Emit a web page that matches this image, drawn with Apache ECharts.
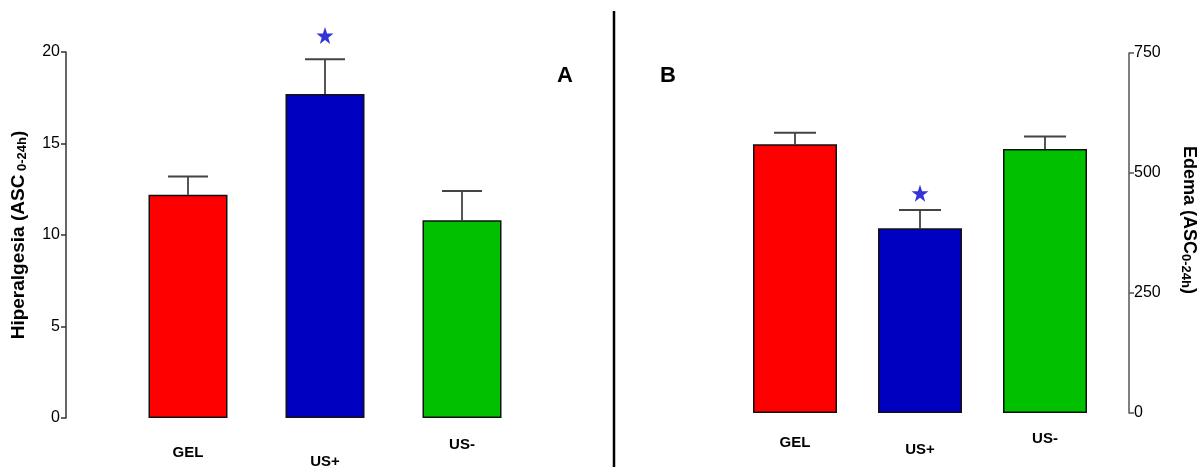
<!DOCTYPE html>
<html><head><meta charset="utf-8">
<script src="https://cdn.jsdelivr.net/npm/echarts@6/dist/echarts.min.js"></script>
<style>html,body{margin:0;padding:0;background:#fff}#c{width:1203px;height:467px}</style>
</head><body><div id="c"></div>
<script>
const categories = ['GEL', 'US+', 'US-'];
const hiperMean = [12.2, 17.7, 10.8];
const hiperErr = [13.2, 19.6, 12.4];
const hiperStar = [null, 20.9, null];
const edemaMean = [560, 385, 550];
const edemaErr = [584, 423, 576];
const edemaStar = [null, 458, null];
const hiperTicks = [0, 5, 10, 15, 20];
const edemaTicks = [0, 250, 500, 750];
const barColors = ['#ff0000', '#0000c0', '#00c000'];

const STAR = 'path://M50,0 L61.8,35.3 L98.1,35.3 L68.8,57.1 L79.4,91.5 L50,70 L20.6,91.5 L31.2,57.1 L1.9,35.3 L38.2,35.3 Z';

function catAxis(gi, pads) {
  const st = (p) => ({padding: [p, 0, 0, 0], fontSize: 15, fontWeight: 'bold', color: '#000', fontFamily: 'Liberation Sans'});
  return {
    type: 'category', gridIndex: gi, data: categories,
    axisLine: {show: false}, axisTick: {show: false},
    axisLabel: {
      interval: 0, margin: 0,
      formatter: (v, i) => '{' + ['g','p','m'][i] + '|' + v + '}',
      rich: {g: st(pads[0]), p: st(pads[1]), m: st(pads[2])}
    }
  };
}

function errSeries(xi, yi, mean, err, cap) {
  return {
    type: 'custom', xAxisIndex: xi, yAxisIndex: yi, z: 1,
    data: mean.map((m, i) => [i, m, err[i]]),
    renderItem: function (params, api) {
      const p0 = api.coord([api.value(0), api.value(1)]);
      const p1 = api.coord([api.value(0), api.value(2)]);
      return {
        type: 'group', children: [
          {type: 'line', shape: {x1: p0[0], y1: p0[1], x2: p1[0], y2: p1[1]}, style: {stroke: '#555', lineWidth: 2}},
          {type: 'line', shape: {x1: p1[0] - cap / 2, y1: p1[1], x2: p1[0] + cap / 2, y2: p1[1]}, style: {stroke: '#444', lineWidth: 2}}
        ]
      };
    }
  };
}

function barSeries(xi, yi, mean, w) {
  return {
    type: 'bar', xAxisIndex: xi, yAxisIndex: yi, barWidth: w, z: 2,
    data: mean.map((v, i) => ({value: v, itemStyle: {color: barColors[i]}})),
    itemStyle: {borderColor: '#111', borderWidth: 1.5}
  };
}

function starSeries(xi, yi, vals) {
  return {
    type: 'scatter', xAxisIndex: xi, yAxisIndex: yi, clip: false, z: 3,
    symbol: STAR, symbolSize: 17, itemStyle: {color: '#0000cc'},
    data: vals.map((v, i) => v == null ? null : [i, v]).filter(d => d)
  };
}

const chart = echarts.init(document.getElementById('c'), null, {renderer: 'canvas'});
chart.setOption({
  animation: false,
  textStyle: {fontFamily: 'Liberation Sans'},
  grid: [
    {left: 119.5, width: 411, top: 52, height: 366, containLabel: false, outerBoundsMode: 'none'},
    {left: 732.5, width: 375, top: 53, height: 360, containLabel: false, outerBoundsMode: 'none'}
  ],
  xAxis: [catAxis(0, [27, 36, 19]), catAxis(1, [22, 29, 18])],
  yAxis: [
    {
      type: 'value', gridIndex: 0, min: hiperTicks[0], max: hiperTicks[hiperTicks.length - 1], interval: 5,
      offset: 53.5, position: 'left',
      splitLine: {show: false},
      axisLine: {show: true, lineStyle: {color: '#333', width: 1.5}},
      axisTick: {show: true, length: 5, lineStyle: {color: '#333', width: 1.5}},
      axisLabel: {color: '#000', fontSize: 16, margin: 6},
      name: '{a|Hiperalgesia (ASC}{b| 0-24h}{a|)}', nameLocation: 'middle', nameRotate: 90, nameGap: 37,
      nameTextStyle: {rich: {a: {fontSize: 19, fontWeight: 'bold', color: '#000'}, b: {fontSize: 13, fontWeight: 'bold', color: '#000', padding: [7, 0, 0, 0]}}}
    },
    {
      type: 'value', gridIndex: 1, min: edemaTicks[0], max: edemaTicks[edemaTicks.length - 1], interval: 250,
      offset: 21.5, position: 'right',
      splitLine: {show: false},
      axisLine: {show: true, lineStyle: {color: '#555', width: 1.5}},
      axisTick: {show: true, length: 5, lineStyle: {color: '#555', width: 1.5}},
      axisLabel: {color: '#000', fontSize: 16, margin: 5},
      name: '{a|Edema (ASC}{b|0-24h}{a|)}', nameLocation: 'middle', nameRotate: -90, nameGap: 50,
      nameTextStyle: {padding: [0, 26, 0, 0], rich: {a: {fontSize: 18, fontWeight: 'bold', color: '#000'}, b: {fontSize: 13, fontWeight: 'bold', color: '#000', padding: [7, 0, 0, 0]}}}
    }
  ],
  title: [
    {text: 'A', left: 552, top: 60, textStyle: {fontSize: 22, fontWeight: 'bold', color: '#000'}},
    {text: 'B', left: 655, top: 60, textStyle: {fontSize: 22, fontWeight: 'bold', color: '#000'}}
  ],
  graphic: [
    {type: 'line', shape: {x1: 614, y1: 11, x2: 614, y2: 467}, style: {stroke: '#000', lineWidth: 2.5}}
  ],
  series: [
    errSeries(0, 0, hiperMean, hiperErr, 40),
    barSeries(0, 0, hiperMean, 79),
    starSeries(0, 0, hiperStar),
    errSeries(1, 1, edemaMean, edemaErr, 42),
    barSeries(1, 1, edemaMean, 84),
    starSeries(1, 1, edemaStar)
  ]
});
</script></body></html>
